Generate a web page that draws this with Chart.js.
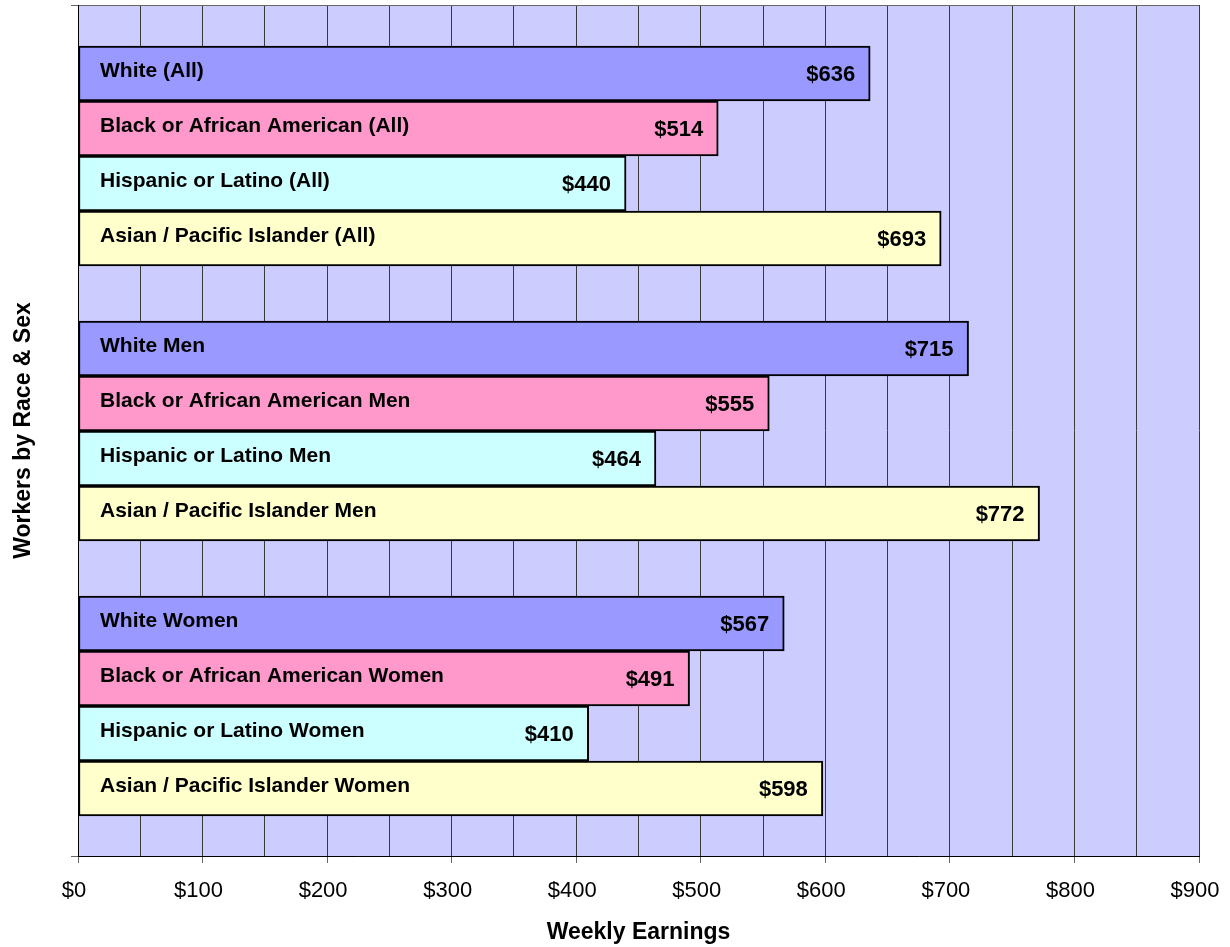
<!DOCTYPE html>
<html>
<head>
<meta charset="utf-8">
<title>Weekly Earnings by Race &amp; Sex</title>
<script src="https://cdn.jsdelivr.net/npm/chart.js@4/dist/chart.umd.min.js"></script>
<style>
  html, body { margin: 0; padding: 0; background: #ffffff; }
  #wrap { width: 1230px; height: 947px; }
</style>
</head>
<body>
<div id="wrap"><canvas id="chart" width="1230" height="947"></canvas></div>
<script>
// Groups of workers and the race categories inside each group
const races = ['White', 'Black or African American', 'Hispanic or Latino', 'Asian / Pacific Islander'];
const groups = ['(All)', 'Men', 'Women'];

// Median weekly earnings (dollars), one array per group, in race order
const allWorkers = [636, 514, 440, 693];
const menWorkers = [715, 555, 464, 772];
const womenWorkers = [567, 491, 410, 598];

// Value axis tick labels
const xTicks = [0, 100, 200, 300, 400, 500, 600, 700, 800, 900];

const raceColors = ['#9999FF', '#FF99CC', '#CCFFFF', '#FFFFCC'];
const FONT = '"Liberation Sans", Arial, Helvetica, sans-serif';

const groupValues = [allWorkers, menWorkers, womenWorkers];
const rowsPerGroup = races.length + 1;          // one empty row between groups
const lastRow = (groups.length - 1) * rowsPerGroup + races.length - 1;

const datasets = races.map((race, ri) => ({
  label: race,
  names: groups.map(g => race + ' ' + g),
  data: groupValues.map((vals, gi) => ({ x: vals[ri], y: gi * rowsPerGroup + ri })),
  backgroundColor: raceColors[ri],
  borderColor: '#000000',
  borderWidth: 2,
  borderSkipped: false,
  grouped: false,
  barPercentage: 1,
  categoryPercentage: 1
}));

// Light lavender plot background
const plotBackground = {
  id: 'plotBackground',
  beforeDraw(chart) {
    const { ctx, chartArea: a } = chart;
    ctx.save();
    ctx.fillStyle = '#CCCCFF';
    ctx.fillRect(a.left, a.top, a.right - a.left, a.bottom - a.top);
    ctx.restore();
  }
};

// Category name at the left of each bar and its dollar value at the bar's end
const barLabels = {
  id: 'barLabels',
  afterDatasetsDraw(chart) {
    const { ctx, chartArea: a } = chart;
    ctx.save();
    ctx.fillStyle = '#000000';
    ctx.textBaseline = 'middle';
    chart.data.datasets.forEach((ds, di) => {
      const meta = chart.getDatasetMeta(di);
      meta.data.forEach((bar, i) => {
        ctx.font = 'bold 21px ' + FONT;
        ctx.textAlign = 'left';
        ctx.fillText(ds.names[i], a.left + 22, bar.y - 2);
        ctx.font = 'bold 22px ' + FONT;
        ctx.textAlign = 'right';
        ctx.fillText('$' + ds.data[i].x, bar.x - 15, bar.y + 1);
      });
    });
    ctx.restore();
  }
};

new Chart(document.getElementById('chart'), {
  type: 'bar',
  data: { datasets },
  plugins: [plotBackground, barLabels],
  options: {
    indexAxis: 'y',
    responsive: false,
    animation: false,
    layout: { padding: { top: 5, right: 31, bottom: 0, left: 0 } },
    plugins: {
      legend: { display: false },
      tooltip: { enabled: false }
    },
    scales: {
      x: {
        type: 'linear',
        min: xTicks[0],
        max: xTicks[xTicks.length - 1],
        afterBuildTicks(scale) {
          const t = [];
          for (let v = xTicks[0]; v <= xTicks[xTicks.length - 1]; v += 50) t.push({ value: v });
          scale.ticks = t;
        },
        ticks: {
          autoSkip: false,
          maxRotation: 0,
          padding: 15,
          labelOffset: -4,
          color: '#000000',
          font: { family: FONT, size: 22 },
          callback: v => (xTicks.includes(v) ? '$' + v : '')
        },
        grid: {
          color: '#3a3a3a',
          lineWidth: 1,
          tickLength: 7,
          tickColor: c => (c.tick && xTicks.includes(c.tick.value) ? '#666666' : 'rgba(0,0,0,0)')
        },
        border: { display: true, color: '#000000', width: 1 },
        title: {
          display: true,
          text: 'Weekly Earnings',
          color: '#000000',
          font: { family: FONT, size: 23, weight: 'bold' },
          padding: { top: 4, bottom: 1 }
        },
        afterFit(scale) {
          scale.height = 91;
          scale.paddingLeft = 0;
          scale.paddingRight = 0;
        }
      },
      y: {
        type: 'linear',
        reverse: true,
        offset: false,
        min: -1.245,
        max: lastRow + 1.227,
        afterBuildTicks(scale) {
          scale.ticks = [{ value: scale.min }, { value: scale.max }];
        },
        ticks: { display: false },
        grid: {
          offset: false,
          color: '#666666',
          lineWidth: 1,
          tickLength: 7,
          tickColor: '#666666'
        },
        border: { display: true, color: '#000000', width: 1 },
        title: {
          display: true,
          text: 'Workers by Race & Sex',
          color: '#000000',
          font: { family: FONT, size: 23, weight: 'bold' },
          padding: { top: 10, bottom: 4 }
        },
        afterFit(scale) { scale.width = 78; }
      }
    }
  }
});
</script>
</body>
</html>
